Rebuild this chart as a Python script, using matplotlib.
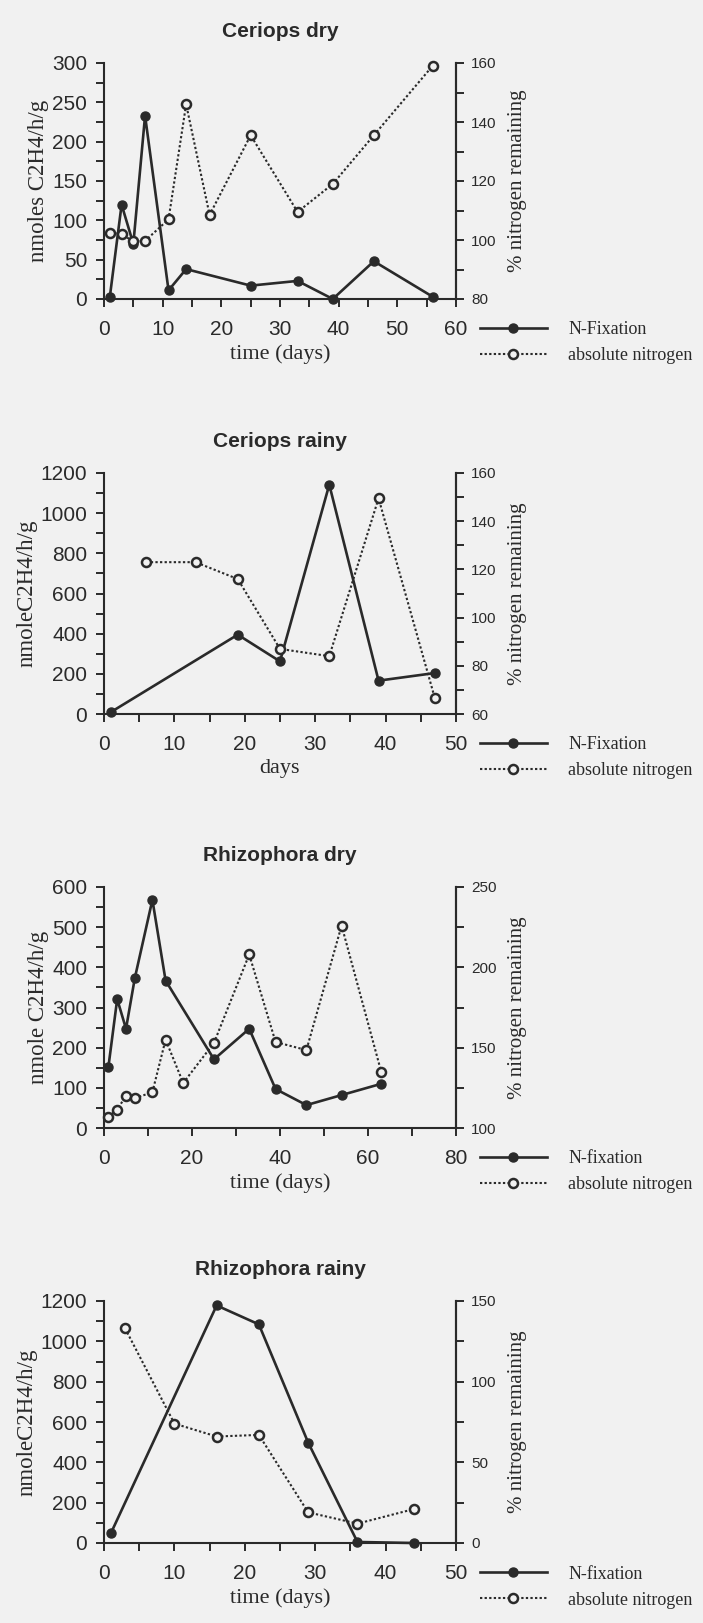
import matplotlib
matplotlib.use('Agg')
import matplotlib.pyplot as plt
from matplotlib.ticker import MultipleLocator
from matplotlib.lines import Line2D

# Ceriops dry
cd_fix_days = [1, 3, 5, 7, 11, 14, 25, 33, 39, 46, 56]
cd_fix = [3, 120, 70, 233, 11, 38, 17, 23, 0, 48, 3]
cd_n_days = [1, 3, 5, 7, 11, 14, 18, 25, 33, 39, 46, 56]
cd_n = [102.5, 102, 99.5, 99.7, 107, 146, 108.5, 135.5, 109.5, 119, 135.5, 159]

# Ceriops rainy
cr_fix_days = [1, 19, 25, 32, 39, 47]
cr_fix = [10, 395, 262, 1142, 166, 204]
cr_n_days = [6, 13, 19, 25, 32, 39, 47]
cr_n = [123, 123, 116, 87, 84, 149.5, 66.5]

# Rhizophora dry
rd_fix_days = [1, 3, 5, 7, 11, 14, 25, 33, 39, 46, 54, 63]
rd_fix = [152, 321, 247, 373, 568, 367, 171, 247, 97, 57, 82, 110]
rd_n_days = [1, 3, 5, 7, 11, 14, 18, 25, 33, 39, 46, 54, 63]
rd_n = [107, 111.5, 120, 118.5, 122.3, 155, 128, 153, 208, 153.5, 148.5, 226, 135]

# Rhizophora rainy
rr_fix_days = [1, 16, 22, 29, 36, 44]
rr_fix = [50, 1178, 1084, 498, 5, 0]
rr_n_days = [3, 10, 16, 22, 29, 36, 44]
rr_n = [133, 74, 66, 67, 19, 12, 21]

BG = '#f1f1f1'
INK = '#2a2a2a'
W, H = 703, 1623
SANS = ['Liberation Sans', 'DejaVu Sans']
SERIF = ['Liberation Serif', 'DejaVu Serif']

fig = plt.figure(figsize=(W / 100, H / 100), dpi=100, facecolor=BG)


def panel(top, bottom, title, days1, fix, days2, nit, xmax, xmaj, xmin,
          ymax, ymaj, ymin, r_lo, r_hi, r_maj, r_min, ylab, xlab, fixlab):
    left, right = 104, 456
    ax = fig.add_axes([left / W, 1 - bottom / H, (right - left) / W, (bottom - top) / H])
    ax.set_facecolor('none')
    ax2 = ax.twinx()
    for a in (ax, ax2):
        a.spines['top'].set_visible(False)
        for s in a.spines.values():
            s.set_color(INK)
            s.set_linewidth(1.5)
    ax2.spines['left'].set_visible(False)
    ax2.spines['bottom'].set_visible(False)

    ax.plot(days1, fix, color=INK, lw=1.9, marker='o', ms=6.5, mfc=INK, mec=INK,
            clip_on=False, zorder=3)
    ax2.plot(days2, nit, color=INK, lw=1.5, ls=(0, (1.1, 1.1)), marker='o', ms=6.5,
             mfc=BG, mec=INK, mew=1.8, clip_on=False, zorder=3)

    ax.set_xlim(0, xmax)
    ax.set_ylim(0, ymax)
    ax2.set_ylim(r_lo, r_hi)
    ax.xaxis.set_major_locator(MultipleLocator(xmaj))
    ax.xaxis.set_minor_locator(MultipleLocator(xmin))
    ax.yaxis.set_major_locator(MultipleLocator(ymaj))
    ax.yaxis.set_minor_locator(MultipleLocator(ymin))
    ax2.yaxis.set_major_locator(MultipleLocator(r_maj))
    ax2.yaxis.set_minor_locator(MultipleLocator(r_min))
    for a in (ax, ax2):
        a.tick_params(which='both', direction='out', length=6, width=1.4,
                      color=INK, labelcolor=INK)
    ax.tick_params(axis='x', labelsize=15, pad=9)
    ax.tick_params(axis='y', labelsize=15, pad=6)
    for lab in ax.get_xticklabels() + ax.get_yticklabels():
        lab.set_family(SANS)
    ax2.tick_params(axis='y', labelsize=11, pad=5)
    for lab in ax2.get_yticklabels():
        lab.set_family(SANS)

    ax.set_title(title, fontsize=15, fontweight='bold', color=INK, pad=19,
                 family=SANS)
    ax.set_ylabel(ylab, fontsize=16.5, color=INK, family=SERIF, labelpad=2)
    ax.set_xlabel(xlab, fontsize=16, color=INK, family=SERIF, labelpad=4)
    ax2.set_ylabel('% nitrogen remaining', fontsize=15, color=INK, family=SERIF,
                   labelpad=8)

    handles = [
        Line2D([], [], color=INK, lw=1.9, marker='o', ms=6.5, mfc=INK, mec=INK),
        Line2D([], [], color=INK, lw=1.5, ls=(0, (1.1, 1.1)), marker='o', ms=6.5,
               mfc=BG, mec=INK, mew=1.8),
    ]
    ax.legend(handles, [fixlab, 'absolute nitrogen'], loc='upper left',
              bbox_to_anchor=(1.068, -0.093), frameon=False, handlelength=3.7,
              handletextpad=1.2, labelspacing=0.5, borderpad=0, borderaxespad=0,
              prop={'family': SERIF, 'size': 13}, labelcolor=INK)


panel(63, 299, 'Ceriops dry', cd_fix_days, cd_fix, cd_n_days, cd_n,
      60, 10, 5, 300, 50, 25, 80, 160, 20, 10,
      'nmoles C2H4/h/g', 'time (days)', 'N-Fixation')
panel(473, 714, 'Ceriops rainy', cr_fix_days, cr_fix, cr_n_days, cr_n,
      50, 10, 5, 1200, 200, 100, 60, 160, 20, 10,
      'nmoleC2H4/h/g', 'days', 'N-Fixation')
panel(887, 1128, 'Rhizophora dry', rd_fix_days, rd_fix, rd_n_days, rd_n,
      80, 20, 10, 600, 100, 50, 100, 250, 50, 25,
      'nmole C2H4/h/g', 'time (days)', 'N-fixation')
panel(1301, 1543, 'Rhizophora rainy', rr_fix_days, rr_fix, rr_n_days, rr_n,
      50, 10, 5, 1200, 200, 100, 0, 150, 50, 25,
      'nmoleC2H4/h/g', 'time (days)', 'N-fixation')

fig.savefig('out.png', dpi=100, facecolor=BG)
